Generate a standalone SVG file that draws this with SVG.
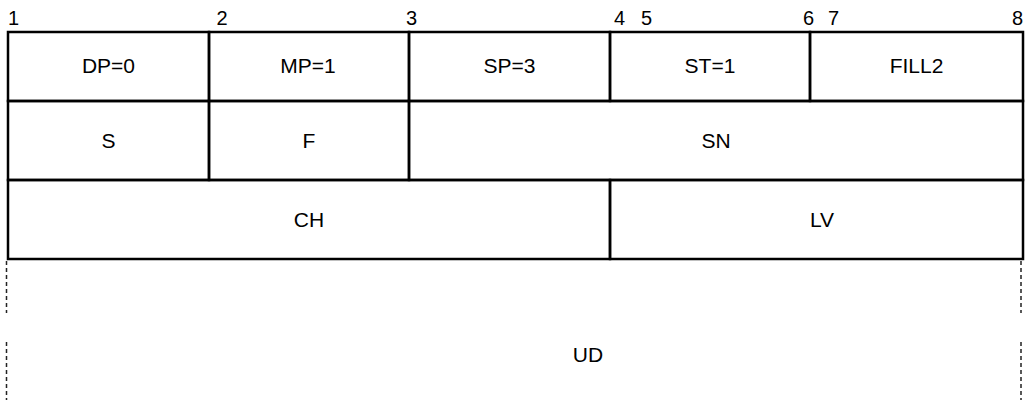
<svg xmlns="http://www.w3.org/2000/svg" width="1025" height="404" viewBox="0 0 1025 404">
<style>
text{font-family:"Liberation Sans",Arial,sans-serif;font-size:21px;fill:#000}
.n{font-size:20px}
.c{text-anchor:middle}
.b{fill:none;stroke:#000;stroke-width:2.5}
.d{fill:none;stroke:#222;stroke-width:1.5;stroke-dasharray:4 3}
</style>
<rect width="1025" height="404" fill="#fff"/>
<g id="bit-labels">
<text class="n" x="8" y="25">1</text>
<text class="n" x="216.5" y="25">2</text>
<text class="n" x="406" y="25">3</text>
<text class="n" x="614" y="25">4</text>
<text class="n" x="641" y="25">5</text>
<text class="n" x="803" y="25">6</text>
<text class="n" x="828" y="25">7</text>
<text class="n" x="1012" y="25">8</text>
</g>
<g id="DP"><rect class="b" x="8" y="32" width="201" height="69"/><text class="c" x="108.5" y="73">DP=0</text></g>
<g id="MP"><rect class="b" x="209" y="32" width="200" height="69"/><text class="c" x="308" y="73">MP=1</text></g>
<g id="SP"><rect class="b" x="409" y="32" width="201" height="69"/><text class="c" x="509.5" y="73">SP=3</text></g>
<g id="ST"><rect class="b" x="610" y="32" width="200" height="69"/><text class="c" x="710" y="73">ST=1</text></g>
<g id="FILL2"><rect class="b" x="810" y="32" width="213" height="69"/><text class="c" x="916.5" y="73">FILL2</text></g>
<g id="S"><rect class="b" x="8" y="101" width="201" height="79"/><text class="c" x="108.5" y="148">S</text></g>
<g id="F"><rect class="b" x="209" y="101" width="200" height="79"/><text class="c" x="309" y="148">F</text></g>
<g id="SN"><rect class="b" x="409" y="101" width="614" height="79"/><text class="c" x="716" y="148">SN</text></g>
<g id="CH"><rect class="b" x="8" y="180" width="602" height="79"/><text class="c" x="309" y="227">CH</text></g>
<g id="LV"><rect class="b" x="610" y="180" width="413" height="79"/><text class="c" x="822" y="227">LV</text></g>
<g id="UD"><text class="c" x="588" y="362">UD</text></g>
<g id="connectors">
<path class="d" d="M6.5 261V313M6.5 342V400M1021 261V313M1021 342V400"/>
</g>
</svg>
